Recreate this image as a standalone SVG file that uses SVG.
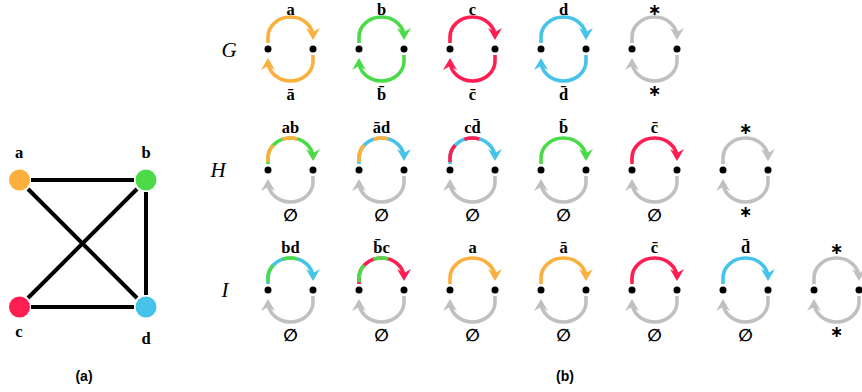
<svg xmlns="http://www.w3.org/2000/svg" width="862" height="392" viewBox="0 0 862 392">
<style>
.bg{fill:#fff}
.e{stroke:#000;stroke-width:4;stroke-linecap:butt}
.lb{font-family:"Liberation Serif",serif;font-weight:bold;font-size:16.5px;text-anchor:middle;fill:#000}
.es{font-family:"DejaVu Sans",sans-serif;font-weight:bold;font-size:17px;text-anchor:middle;fill:#000}
.st{font-family:"DejaVu Sans",sans-serif;font-weight:bold;font-size:16px;text-anchor:middle;fill:#000}
.gl{font-family:"Liberation Serif",serif;font-style:italic;font-size:21px;text-anchor:middle;fill:#000}
.cap{font-family:"Liberation Sans",sans-serif;font-weight:bold;font-size:14px;text-anchor:middle;fill:#000}
.arc{fill:none;stroke-width:3.6;stroke-linecap:butt}
.o{stroke:#FBB03E}.g{stroke:#4CDB48}.r{stroke:#FF1D52}.b{stroke:#46C3E9}.y{stroke:#C0C0C0}
.ov{stroke-dasharray:0 2 18 11 15 200}
.dot{fill:#000}
</style>
<defs>
<marker id="mo" markerUnits="userSpaceOnUse" orient="auto" markerWidth="24" markerHeight="24" refX="0" refY="0" viewBox="-12 -12 24 24" overflow="visible"><path d="M3,0 L-9,-7 L-5,0 L-9,7 Z" fill="#FBB03E"/></marker>
<marker id="mg" markerUnits="userSpaceOnUse" orient="auto" markerWidth="24" markerHeight="24" refX="0" refY="0" viewBox="-12 -12 24 24" overflow="visible"><path d="M3,0 L-9,-7 L-5,0 L-9,7 Z" fill="#4CDB48"/></marker>
<marker id="mr" markerUnits="userSpaceOnUse" orient="auto" markerWidth="24" markerHeight="24" refX="0" refY="0" viewBox="-12 -12 24 24" overflow="visible"><path d="M3,0 L-9,-7 L-5,0 L-9,7 Z" fill="#FF1D52"/></marker>
<marker id="mb" markerUnits="userSpaceOnUse" orient="auto" markerWidth="24" markerHeight="24" refX="0" refY="0" viewBox="-12 -12 24 24" overflow="visible"><path d="M3,0 L-9,-7 L-5,0 L-9,7 Z" fill="#46C3E9"/></marker>
<marker id="my" markerUnits="userSpaceOnUse" orient="auto" markerWidth="24" markerHeight="24" refX="0" refY="0" viewBox="-12 -12 24 24" overflow="visible"><path d="M3,0 L-9,-7 L-5,0 L-9,7 Z" fill="#C0C0C0"/></marker>
</defs>
<rect class="bg" width="862" height="392"/>

<!-- (a) graph -->
<g id="edges">
<line class="e" x1="31" y1="180" x2="134" y2="180"/>
<line class="e" x1="146" y1="192" x2="146" y2="295"/>
<line class="e" x1="31" y1="307" x2="134" y2="307"/>
<line class="e" x1="28" y1="189" x2="137" y2="298"/>
<line class="e" x1="137" y1="189" x2="28" y2="298"/>
</g>
<g id="node-a"><circle cx="19.5" cy="180" r="10.5" fill="#FBB03E"/><text class="lb" x="19" y="158">a</text></g>
<g id="node-b"><circle cx="146" cy="180" r="10.5" fill="#4CDB48"/><text class="lb" x="146" y="158">b</text></g>
<g id="node-c"><circle cx="19.5" cy="307" r="10.5" fill="#FF1D52"/><text class="lb" x="19" y="337">c</text></g>
<g id="node-d"><circle cx="146" cy="307" r="10.5" fill="#46C3E9"/><text class="lb" x="146" y="344">d</text></g>
<text class="cap" x="84" y="381">(a)</text>

<!-- row labels -->
<text class="gl" x="229" y="57">G</text>
<text class="gl" x="218" y="177">H</text>
<text class="gl" x="225" y="297">I</text>

<!-- Row G, Y=49 -->
<g id="G1" transform="translate(268,49)">
<path class="arc o" d="M0,-6 V-12 A22.5,20 0 0 1 45,-12" marker-end="url(#mo)"/>
<path class="arc o" d="M45,6 V12 A22.5,20 0 0 1 0,12" marker-end="url(#mo)"/>
<circle class="dot" cx="0" cy="0" r="3.5"/><circle class="dot" cx="45" cy="0" r="3.5"/>
<text class="lb" x="22.5" y="-34">a</text><text class="lb" x="22.5" y="51">ā</text>
</g>
<g id="G2" transform="translate(359,49)">
<path class="arc g" d="M0,-6 V-12 A22.5,20 0 0 1 45,-12" marker-end="url(#mg)"/>
<path class="arc g" d="M45,6 V12 A22.5,20 0 0 1 0,12" marker-end="url(#mg)"/>
<circle class="dot" cx="0" cy="0" r="3.5"/><circle class="dot" cx="45" cy="0" r="3.5"/>
<text class="lb" x="22.5" y="-34">b</text><text class="lb" x="22.5" y="51">b̄</text>
</g>
<g id="G3" transform="translate(450,49)">
<path class="arc r" d="M0,-6 V-12 A22.5,20 0 0 1 45,-12" marker-end="url(#mr)"/>
<path class="arc r" d="M45,6 V12 A22.5,20 0 0 1 0,12" marker-end="url(#mr)"/>
<circle class="dot" cx="0" cy="0" r="3.5"/><circle class="dot" cx="45" cy="0" r="3.5"/>
<text class="lb" x="22.5" y="-34">c</text><text class="lb" x="22.5" y="51">c̄</text>
</g>
<g id="G4" transform="translate(541,49)">
<path class="arc b" d="M0,-6 V-12 A22.5,20 0 0 1 45,-12" marker-end="url(#mb)"/>
<path class="arc b" d="M45,6 V12 A22.5,20 0 0 1 0,12" marker-end="url(#mb)"/>
<circle class="dot" cx="0" cy="0" r="3.5"/><circle class="dot" cx="45" cy="0" r="3.5"/>
<text class="lb" x="22.5" y="-34">d</text><text class="lb" x="22.5" y="51">d̄</text>
</g>
<g id="G5" transform="translate(632,49)">
<path class="arc y" d="M0,-6 V-12 A22.5,20 0 0 1 45,-12" marker-end="url(#my)"/>
<path class="arc y" d="M45,6 V12 A22.5,20 0 0 1 0,12" marker-end="url(#my)"/>
<circle class="dot" cx="0" cy="0" r="3.5"/><circle class="dot" cx="45" cy="0" r="3.5"/>
<text class="st" x="22.5" y="-34">∗</text><text class="st" x="22.5" y="47">∗</text>
</g>

<!-- Row H, Y=170 -->
<g id="H1" transform="translate(268,170)">
<path class="arc g" d="M0,-6 V-12 A22.5,20 0 0 1 45,-12" marker-end="url(#mg)"/>
<path class="arc o ov" d="M0,-6 V-12 A22.5,20 0 0 1 45,-12"/>
<path class="arc y" d="M45,6 V12 A22.5,20 0 0 1 0,12" marker-end="url(#my)"/>
<circle class="dot" cx="0" cy="0" r="3.5"/><circle class="dot" cx="45" cy="0" r="3.5"/>
<text class="lb" x="22.5" y="-37">ab</text><text class="es" x="22.5" y="51">∅</text>
</g>
<g id="H2" transform="translate(359,170)">
<path class="arc b" d="M0,-6 V-12 A22.5,20 0 0 1 45,-12" marker-end="url(#mb)"/>
<path class="arc o ov" d="M0,-6 V-12 A22.5,20 0 0 1 45,-12"/>
<path class="arc y" d="M45,6 V12 A22.5,20 0 0 1 0,12" marker-end="url(#my)"/>
<circle class="dot" cx="0" cy="0" r="3.5"/><circle class="dot" cx="45" cy="0" r="3.5"/>
<text class="lb" x="22.5" y="-37">ād</text><text class="es" x="22.5" y="51">∅</text>
</g>
<g id="H3" transform="translate(450,170)">
<path class="arc b" d="M0,-6 V-12 A22.5,20 0 0 1 45,-12" marker-end="url(#mb)"/>
<path class="arc r ov" d="M0,-6 V-12 A22.5,20 0 0 1 45,-12"/>
<path class="arc y" d="M45,6 V12 A22.5,20 0 0 1 0,12" marker-end="url(#my)"/>
<circle class="dot" cx="0" cy="0" r="3.5"/><circle class="dot" cx="45" cy="0" r="3.5"/>
<text class="lb" x="22.5" y="-37">cd̄</text><text class="es" x="22.5" y="51">∅</text>
</g>
<g id="H4" transform="translate(541,170)">
<path class="arc g" d="M0,-6 V-12 A22.5,20 0 0 1 45,-12" marker-end="url(#mg)"/>
<path class="arc y" d="M45,6 V12 A22.5,20 0 0 1 0,12" marker-end="url(#my)"/>
<circle class="dot" cx="0" cy="0" r="3.5"/><circle class="dot" cx="45" cy="0" r="3.5"/>
<text class="lb" x="22.5" y="-37">b̄</text><text class="es" x="22.5" y="51">∅</text>
</g>
<g id="H5" transform="translate(632,170)">
<path class="arc r" d="M0,-6 V-12 A22.5,20 0 0 1 45,-12" marker-end="url(#mr)"/>
<path class="arc y" d="M45,6 V12 A22.5,20 0 0 1 0,12" marker-end="url(#my)"/>
<circle class="dot" cx="0" cy="0" r="3.5"/><circle class="dot" cx="45" cy="0" r="3.5"/>
<text class="lb" x="22.5" y="-37">c̄</text><text class="es" x="22.5" y="51">∅</text>
</g>
<g id="H6" transform="translate(723,170)">
<path class="arc y" d="M0,-6 V-12 A22.5,20 0 0 1 45,-12" marker-end="url(#my)"/>
<path class="arc y" d="M45,6 V12 A22.5,20 0 0 1 0,12" marker-end="url(#my)"/>
<circle class="dot" cx="0" cy="0" r="3.5"/><circle class="dot" cx="45" cy="0" r="3.5"/>
<text class="st" x="22.5" y="-36">∗</text><text class="st" x="22.5" y="47">∗</text>
</g>

<!-- Row I, Y=290 -->
<g id="I1" transform="translate(268,290)">
<path class="arc b" d="M0,-6 V-12 A22.5,20 0 0 1 45,-12" marker-end="url(#mb)"/>
<path class="arc g ov" d="M0,-6 V-12 A22.5,20 0 0 1 45,-12"/>
<path class="arc y" d="M45,6 V12 A22.5,20 0 0 1 0,12" marker-end="url(#my)"/>
<circle class="dot" cx="0" cy="0" r="3.5"/><circle class="dot" cx="45" cy="0" r="3.5"/>
<text class="lb" x="22.5" y="-37">bd</text><text class="es" x="22.5" y="51">∅</text>
</g>
<g id="I2" transform="translate(359,290)">
<path class="arc r" d="M0,-6 V-12 A22.5,20 0 0 1 45,-12" marker-end="url(#mr)"/>
<path class="arc g ov" d="M0,-6 V-12 A22.5,20 0 0 1 45,-12"/>
<path class="arc y" d="M45,6 V12 A22.5,20 0 0 1 0,12" marker-end="url(#my)"/>
<circle class="dot" cx="0" cy="0" r="3.5"/><circle class="dot" cx="45" cy="0" r="3.5"/>
<text class="lb" x="22.5" y="-37">b̄c</text><text class="es" x="22.5" y="51">∅</text>
</g>
<g id="I3" transform="translate(450,290)">
<path class="arc o" d="M0,-6 V-12 A22.5,20 0 0 1 45,-12" marker-end="url(#mo)"/>
<path class="arc y" d="M45,6 V12 A22.5,20 0 0 1 0,12" marker-end="url(#my)"/>
<circle class="dot" cx="0" cy="0" r="3.5"/><circle class="dot" cx="45" cy="0" r="3.5"/>
<text class="lb" x="22.5" y="-37">a</text><text class="es" x="22.5" y="51">∅</text>
</g>
<g id="I4" transform="translate(541,290)">
<path class="arc o" d="M0,-6 V-12 A22.5,20 0 0 1 45,-12" marker-end="url(#mo)"/>
<path class="arc y" d="M45,6 V12 A22.5,20 0 0 1 0,12" marker-end="url(#my)"/>
<circle class="dot" cx="0" cy="0" r="3.5"/><circle class="dot" cx="45" cy="0" r="3.5"/>
<text class="lb" x="22.5" y="-37">ā</text><text class="es" x="22.5" y="51">∅</text>
</g>
<g id="I5" transform="translate(632,290)">
<path class="arc r" d="M0,-6 V-12 A22.5,20 0 0 1 45,-12" marker-end="url(#mr)"/>
<path class="arc y" d="M45,6 V12 A22.5,20 0 0 1 0,12" marker-end="url(#my)"/>
<circle class="dot" cx="0" cy="0" r="3.5"/><circle class="dot" cx="45" cy="0" r="3.5"/>
<text class="lb" x="22.5" y="-37">c̄</text><text class="es" x="22.5" y="51">∅</text>
</g>
<g id="I6" transform="translate(723,290)">
<path class="arc b" d="M0,-6 V-12 A22.5,20 0 0 1 45,-12" marker-end="url(#mb)"/>
<path class="arc y" d="M45,6 V12 A22.5,20 0 0 1 0,12" marker-end="url(#my)"/>
<circle class="dot" cx="0" cy="0" r="3.5"/><circle class="dot" cx="45" cy="0" r="3.5"/>
<text class="lb" x="22.5" y="-37">d̄</text><text class="es" x="22.5" y="51">∅</text>
</g>
<g id="I7" transform="translate(814,290)">
<path class="arc y" d="M0,-6 V-12 A22.5,20 0 0 1 45,-12" marker-end="url(#my)"/>
<path class="arc y" d="M45,6 V12 A22.5,20 0 0 1 0,12" marker-end="url(#my)"/>
<circle class="dot" cx="0" cy="0" r="3.5"/><circle class="dot" cx="45" cy="0" r="3.5"/>
<text class="st" x="22.5" y="-36">∗</text><text class="st" x="22.5" y="47">∗</text>
</g>

<text class="cap" x="565" y="381">(b)</text>
</svg>
